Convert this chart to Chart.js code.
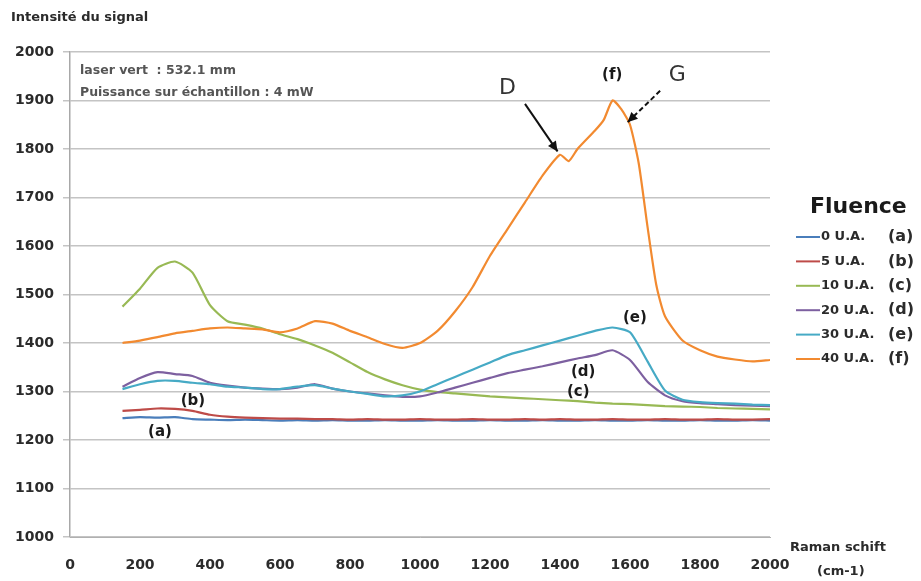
<!DOCTYPE html>
<html>
<head>
<meta charset="utf-8">
<script src="https://cdn.jsdelivr.net/npm/chart.js@4"></script>
<style>
    html, body { margin: 0; padding: 0; background: #fff; }
    #wrap { width: 921px; height: 581px; }
</style>
</head>
<body>
<div id="wrap"><canvas id="ramanChart" width="921" height="581"></canvas></div>
<script>

/* ===============================
   données
=============================== */

const ramanShift = [150, 200, 250, 300, 350, 400, 450, 500, 550, 600, 650, 700, 750, 800, 850, 900, 950, 1000, 1050, 1100,
    1150, 1200, 1250, 1300, 1350, 1400, 1450, 1500, 1550, 1600, 1650, 1700, 1750, 1800, 1850, 1900, 1950, 2000];

const fluence0 = [1245, 1247, 1246, 1247, 1243, 1242, 1241, 1242, 1241, 1240, 1241, 1240, 1241, 1240, 1240, 1241, 1240, 1240, 1241, 1240,
    1240, 1241, 1240, 1240, 1241, 1240, 1240, 1241, 1240, 1240, 1241, 1240, 1240, 1241, 1240, 1240, 1241, 1240];

const fluence5 = [1260, 1262, 1265, 1264, 1260, 1252, 1248, 1246, 1245, 1244, 1244, 1243, 1243, 1242, 1243, 1242, 1242, 1243, 1242, 1242,
    1243, 1242, 1242, 1243, 1242, 1243, 1242, 1242, 1243, 1242, 1242, 1243, 1242, 1242, 1243, 1242, 1242, 1243];

const fluence10 = [1475, 1512, 1555, 1568, 1545, 1478, 1445, 1438, 1430, 1418, 1408, 1395, 1380, 1360, 1340, 1325, 1313, 1304, 1299, 1296,
    1293, 1290, 1288, 1286, 1284, 1282, 1280, 1277, 1275, 1274, 1272, 1270, 1269, 1268, 1266, 1265, 1264, 1263];

const fluence20 = [1310, 1328, 1340, 1336, 1332, 1318, 1312, 1308, 1306, 1305, 1308, 1315, 1306, 1300, 1296, 1292, 1289, 1290, 1298, 1308,
    1318, 1328, 1338, 1345, 1352, 1360, 1368, 1375, 1385, 1365, 1320, 1292, 1280, 1276, 1274, 1272, 1271, 1270];

const fluence30 = [1305, 1315, 1322, 1322, 1318, 1315, 1310, 1308, 1305, 1305, 1310, 1313, 1306, 1300, 1295, 1290, 1292, 1300, 1315, 1330,
    1345, 1360, 1375, 1385, 1395, 1405, 1415, 1425, 1432, 1422, 1362, 1302, 1283, 1278, 1276, 1275, 1273, 1272];

// la courbe (f) a des points en plus autour des pics D et G
const ramanShiftF = [150, 200, 250, 300, 350, 400, 450, 500, 550, 600, 650, 700, 750, 800, 850, 900, 950, 1000, 1050, 1100,
    1150, 1200, 1250, 1300, 1350, 1400, 1425, 1450, 1500, 1525, 1550, 1575, 1600, 1625, 1650, 1675, 1700, 1750, 1800, 1850,
    1900, 1950, 2000];

const fluence40 = [1400, 1405, 1412, 1420, 1425, 1430, 1432, 1430, 1428, 1422, 1430, 1445, 1440, 1425, 1412, 1398, 1390, 1400, 1425, 1465,
    1515, 1580, 1635, 1690, 1745, 1788, 1775, 1800, 1838, 1860, 1900, 1882, 1850, 1770, 1640, 1520, 1455, 1405, 1385, 1372,
    1366, 1362, 1365];

const seriesLabels = ["0 U.A.", "5 U.A.", "10 U.A.", "20 U.A.", "30 U.A.", "40 U.A."];
const seriesTags = ["(a)", "(b)", "(c)", "(d)", "(e)", "(f)"];
const seriesColors = ["#4a7ebb", "#be4b48", "#98b954", "#7d60a0", "#46aac5", "#f28a30"];

const yTicks = [1000, 1100, 1200, 1300, 1400, 1500, 1600, 1700, 1800, 1900, 2000];
const xTicks = [0, 200, 400, 600, 800, 1000, 1200, 1400, 1600, 1800, 2000];

// étiquettes posées sur la figure : [texte, x, y]
const curveTags = [
    ["(a)", 257, 1217],
    ["(b)", 351, 1280],
    ["(c)", 1452, 1299],
    ["(d)", 1466, 1340],
    ["(e)", 1614, 1452],
    ["(f)", 1549, 1953]
];

// flèches D et G : [texte, xTexte, yTexte, x1, y1, x2, y2, pointillé]
const bandArrows = [
    ["D", 1250, 1926, 1300, 1893, 1393, 1795, false],
    ["G", 1735, 1953, 1686, 1920, 1593, 1855, true]
];


/* ===============================
   construction des séries
=============================== */

const fluenceValues = [fluence0, fluence5, fluence10, fluence20, fluence30, fluence40];

const datasets = fluenceValues.map((values, i) => {

    const xs = (i === 5) ? ramanShiftF : ramanShift;

    return {
        label: seriesLabels[i],
        data: values.map((v, k) => ({ x: xs[k], y: v })),
        borderColor: seriesColors[i],
        backgroundColor: seriesColors[i],
        borderWidth: 2.2,
        pointRadius: 0,
        tension: 0.2,
        fill: false,
        order: 6 - i
    };

});


/* ===============================
   textes et légende dessinés à la main
=============================== */

const FONT = "'DejaVu Sans', sans-serif";

const decorPlugin = {

    id: "decor",

    afterDraw(chart) {

        const ctx = chart.ctx;
        const xs = chart.scales.x;
        const ys = chart.scales.y;

        ctx.save();

        // titre de l'axe vertical
        ctx.fillStyle = "#2b2b2b";
        ctx.font = "bold 13px " + FONT;
        ctx.textAlign = "left";
        ctx.textBaseline = "middle";
        ctx.fillText("Intensité du signal", 11, 18);

        // titre de l'axe horizontal
        ctx.font = "bold 13px " + FONT;
        ctx.fillText("Raman schift", 790, 548);
        ctx.fillText("(cm-1)", 817, 572);

        // conditions de mesure
        ctx.fillStyle = "#555";
        ctx.font = "bold 12.5px " + FONT;
        ctx.fillText("laser vert  : 532.1 mm", 80, 71);
        ctx.fillText("Puissance sur échantillon : 4 mW", 80, 93);

        // étiquettes des courbes
        ctx.fillStyle = "#1a1a1a";
        ctx.font = "bold 15px " + FONT;
        ctx.textAlign = "center";
        curveTags.forEach(t => {
            ctx.fillText(t[0], xs.getPixelForValue(t[1]), ys.getPixelForValue(t[2]));
        });

        // flèches D et G
        bandArrows.forEach(a => {

            const x1 = xs.getPixelForValue(a[3]);
            const y1 = ys.getPixelForValue(a[4]);
            const x2 = xs.getPixelForValue(a[5]);
            const y2 = ys.getPixelForValue(a[6]);

            ctx.font = "22px " + FONT;
            ctx.fillStyle = "#333";
            ctx.fillText(a[0], xs.getPixelForValue(a[1]), ys.getPixelForValue(a[2]));

            ctx.strokeStyle = "#111";
            ctx.lineWidth = 2;
            ctx.setLineDash(a[7] ? [5, 3] : []);
            ctx.beginPath();
            ctx.moveTo(x1, y1);
            ctx.lineTo(x2, y2);
            ctx.stroke();
            ctx.setLineDash([]);

            // pointe
            const ang = Math.atan2(y2 - y1, x2 - x1);
            ctx.fillStyle = "#111";
            ctx.beginPath();
            ctx.moveTo(x2, y2);
            ctx.lineTo(x2 - 11 * Math.cos(ang - 0.45), y2 - 11 * Math.sin(ang - 0.45));
            ctx.lineTo(x2 - 11 * Math.cos(ang + 0.45), y2 - 11 * Math.sin(ang + 0.45));
            ctx.closePath();
            ctx.fill();

        });

        // légende
        ctx.textAlign = "left";
        ctx.fillStyle = "#1a1a1a";
        ctx.font = "bold 22px " + FONT;
        ctx.fillText("Fluence", 810, 207);

        seriesLabels.forEach((lab, i) => {

            const y = 237 + i * 24.4;

            ctx.strokeStyle = seriesColors[i];
            ctx.lineWidth = 2;
            ctx.beginPath();
            ctx.moveTo(796, y);
            ctx.lineTo(820, y);
            ctx.stroke();

            ctx.fillStyle = "#2b2b2b";
            ctx.font = "bold 13px " + FONT;
            ctx.fillText(lab, 821, y);

            ctx.font = "bold 16px " + FONT;
            ctx.fillText(seriesTags[i], 888, y);

        });

        ctx.restore();
    }
};


/* ===============================
   le graphique
=============================== */

const canvas = document.getElementById("ramanChart");

new Chart(canvas.getContext("2d"), {

    type: "line",

    data: { datasets: datasets },

    options: {

        responsive: false,
        animation: false,
        maintainAspectRatio: false,

        layout: { padding: { top: 52, right: 151, bottom: 0, left: 0 } },

        plugins: {
            legend: { display: false },
            tooltip: { enabled: false }
        },

        scales: {

            x: {
                type: "linear",
                min: 0,
                max: 2000,
                afterBuildTicks: s => { s.ticks = xTicks.map(v => ({ value: v })); },
                afterFit: s => { s.height = 44; },
                grid: { display: false, drawTicks: false },
                border: { display: true, color: "#b0b0b0", width: 1 },
                ticks: {
                    padding: 20,
                    color: "#2b2b2b",
                    font: { family: FONT, size: 14, weight: "bold" },
                    callback: v => String(v)
                }
            },

            y: {
                min: 1000,
                max: 2000,
                afterBuildTicks: s => { s.ticks = yTicks.map(v => ({ value: v })); },
                afterFit: s => { s.width = 70; },
                grid: { color: "#c4c4c4", lineWidth: 1.5, tickLength: 7 },
                border: { display: true, color: "#a8a8a8", width: 1.5 },
                ticks: {
                    padding: 9,
                    color: "#2b2b2b",
                    font: { family: FONT, size: 14, weight: "bold" },
                    callback: v => String(v)
                }
            }
        }
    },

    plugins: [decorPlugin]

});

</script>
</body>
</html>
